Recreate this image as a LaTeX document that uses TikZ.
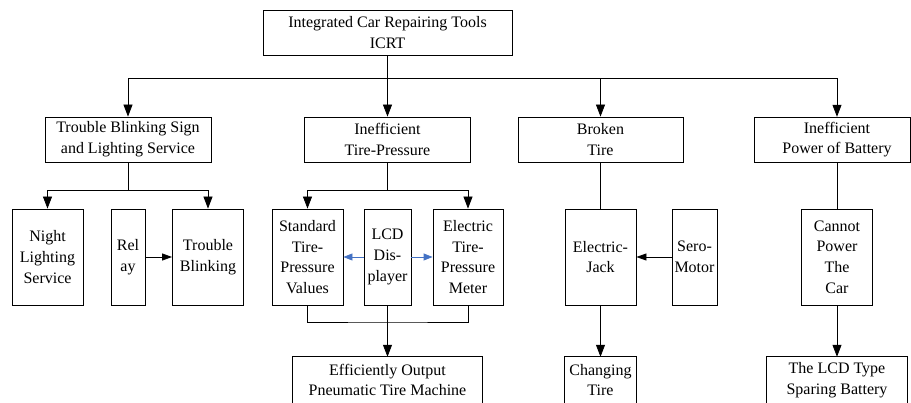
\documentclass[tikz,border=0pt]{standalone}
\usepackage{fontspec}
\setmainfont{Liberation Serif}
\usetikzlibrary{arrows.meta}
\definecolor{arrblue}{HTML}{4472C4}
\begin{document}
\begin{tikzpicture}[x=1pt,y=-1pt,
  box/.style={draw, line width=0.8pt, align=center, inner sep=1pt,
    font=\fontsize{16}{20.7}\selectfont},
  cutbox/.style={align=center, inner sep=1pt, font=\fontsize{16}{20.7}\selectfont},
  ln/.style={line width=0.8pt},
  arr/.style={ln, -{Triangle[length=12pt,width=9pt]}},
  sarr/.style={ln, -{Triangle[length=10pt,width=7pt]}},
  barr/.style={ln, draw=arrblue, -{Triangle[length=9pt,width=7pt]}, arrblue}]
\clip (0,0) rectangle (911,403);
% top
\node[box, minimum width=249pt, minimum height=45pt] (top) at (387.5,32.5) {Integrated Car Repairing Tools\\ICRT};
% level 2
\node[box, minimum width=166pt, minimum height=45pt] (b1) at (128,139.5) {Trouble Blinking Sign\\and Lighting Service};
\node[box, minimum width=166pt, minimum height=45pt] (b2) at (387.5,139.5) {Inefficient\\Tire-Pressure};
\node[box, minimum width=165pt, minimum height=45pt] (b3) at (600.5,139.5) {Broken\\Tire};
\node[cutbox, minimum width=166pt, minimum height=45pt] (b4) at (837,139.5) {Inefficient\\Power of Battery};
\draw[ln] (754,117) rectangle (910,162);
% level 3
\node[box, minimum width=71pt, minimum height=96pt] (night) at (47.5,257) {Night\\Lighting\\Service};
\node[box, minimum width=34pt, minimum height=96pt] (relay) at (128,257) {Rel\\ay};
\node[box, minimum width=71pt, minimum height=96pt] (tblink) at (208,257) {Trouble\\Blinking};
\node[box, minimum width=71pt, minimum height=96pt] (std) at (307.5,257) {Standard\\Tire-\\Pressure\\Values};
\node[box, minimum width=47pt, minimum height=96pt] (lcd) at (387.5,257) {LCD\\Dis-\\player};
\node[box, minimum width=70pt, minimum height=96pt] (etpm) at (468,257) {Electric\\Tire-\\Pressure\\Meter};
\node[box, minimum width=71pt, minimum height=96pt] (ejack) at (600.5,257) {Electric-\\Jack};
\node[box, minimum width=45pt, minimum height=96pt] (sero) at (694.5,257) {Sero-\\Motor};
\node[box, minimum width=71pt, minimum height=96pt] (cannot) at (837,257) {Cannot\\Power\\The\\Car};
% bottom (cut off)
\node[cutbox, minimum width=189pt, minimum height=46pt] (eff) at (387.5,380) {Efficiently Output\\Pneumatic Tire Machine};
\node[cutbox, minimum width=71pt, minimum height=46pt] (ctire) at (600.5,380) {Changing\\Tire};
\node[cutbox, minimum width=141pt, minimum height=46pt] (lcdbat) at (837,380) {The LCD Type\\Sparing Battery};
\foreach \n in {eff,ctire,lcdbat}{
  \draw[ln] ([yshift=-30pt]\n.south west) -- (\n.north west) -- (\n.north east) -- ([yshift=-30pt]\n.south east);
}
% connectors top
\coordinate (bus1) at (387.5,78);
\draw[ln] (top.south) -- (bus1);
\draw[arr] (bus1) -| (b1.north);
\draw[arr] (bus1) -- (b2.north);
\draw[arr] (bus1) -| (b3.north);
\draw[arr] (bus1) -| (b4.north);
% level 3, branch 1
\coordinate (bus2) at (128,190);
\draw[ln] (b1.south) -- (bus2);
\draw[arr] (bus2) -| (night.north);
\draw[arr] (bus2) -| (tblink.north);
\draw[sarr] (relay.east) -- (tblink.west);
% branch 2
\coordinate (bus3) at (387.5,190);
\draw[ln] (b2.south) -- (bus3);
\draw[arr] (bus3) -| (std.north);
\draw[arr] (bus3) -| (etpm.north);
\draw[barr] (lcd.west) -- (std.east);
\draw[barr] (lcd.east) -- (etpm.west);
\coordinate (bus4) at (387.5,322);
\draw[ln] (std.south) |- (bus4) -| (etpm.south);
\draw[arr] (lcd.south) -- (eff.north);
% branch 3
\draw[ln] (b3.south) -- (ejack.north);
\draw[sarr] (sero.west) -- (ejack.east);
\draw[arr] (ejack.south) -- (ctire.north);
% branch 4
\draw[ln] (b4.south) -- (cannot.north);
\draw[arr] (cannot.south) -- (lcdbat.north);
\end{tikzpicture}
\end{document}
